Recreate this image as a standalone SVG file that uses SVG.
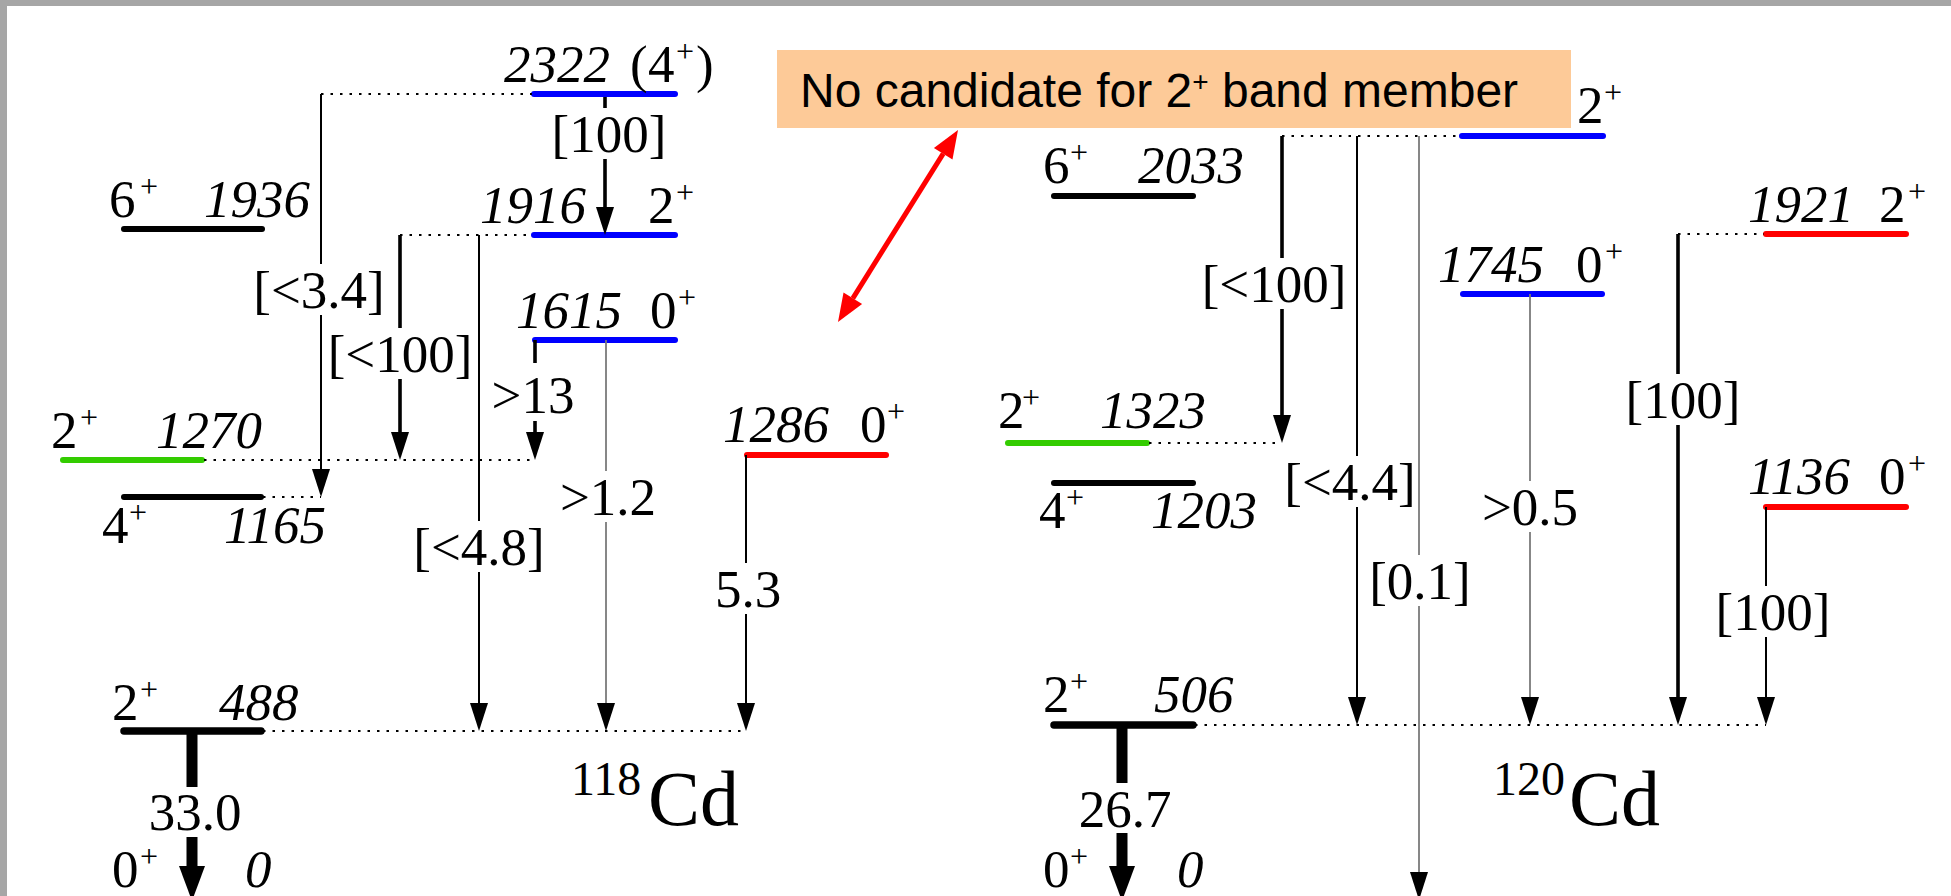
<svg xmlns="http://www.w3.org/2000/svg" width="1951" height="896" viewBox="0 0 1951 896">
<style>
.lv{fill:none;stroke-linecap:round;stroke-width:6}
.k{stroke:#000}.b{stroke:#0000ff}.r{stroke:#ff0000}.g{stroke:#33cc00}
.gs{stroke-width:7.5}
.dot{fill:none;stroke:#000;stroke-width:2;stroke-dasharray:2.5 7}
.tr{fill:none;stroke:#000;stroke-width:2;marker-end:url(#ah)}
.th{stroke-width:3.6}
.gr{stroke:#7a7a7a;stroke-width:1.8}
.bg{fill:#fff}
.gnd{fill:none;stroke:#000;stroke-width:11}
text{font-family:"Liberation Serif","Times New Roman",serif;font-size:53px;fill:#000}
.it{font-style:italic}
.sp{font-size:32px}
.c{text-anchor:middle}
.note{font-family:"Liberation Sans",Arial,sans-serif;font-size:48px}
</style>
<defs>
<marker id="ah" markerUnits="userSpaceOnUse" viewBox="0 0 18 28" markerWidth="18" markerHeight="28" refX="9" refY="18" orient="0"><path d="M0,0 L18,0 L9,28 z" fill="#000"/></marker>
</defs>
<rect x="0" y="0" width="1951" height="896" fill="#fff"/>
<rect x="0" y="0" width="1951" height="6" fill="#a6a6a6"/>
<rect x="0" y="0" width="7" height="896" fill="#a6a6a6"/>

<!-- 118Cd levels -->
<g id="cd118-2322"><line class="lv b" x1="534" y1="94" x2="675" y2="94"/>
<text x="504" y="82" class="it">2322</text>
<text y="82"><tspan x="630">(</tspan><tspan x="648">4</tspan><tspan x="676" class="sp" dy="-20">+</tspan><tspan x="696" dy="20">)</tspan></text></g>
<g id="cd118-1916"><line class="lv b" x1="534" y1="235" x2="675" y2="235"/>
<text x="480" y="223" class="it">1916</text>
<text y="223"><tspan x="648">2</tspan><tspan x="676" class="sp" dy="-20">+</tspan></text></g>
<g id="cd118-1936"><line class="lv k" x1="124" y1="229" x2="262" y2="229"/>
<text y="217"><tspan x="109">6</tspan><tspan x="140" class="sp" dy="-20">+</tspan></text>
<text x="204" y="217" class="it">1936</text></g>
<g id="cd118-1615"><line class="lv b" x1="535" y1="340" x2="675" y2="340"/>
<text x="516" y="328" class="it">1615</text>
<text y="328"><tspan x="650">0</tspan><tspan x="678" class="sp" dy="-20">+</tspan></text></g>
<g id="cd118-1270"><line class="lv g" x1="63" y1="460" x2="202" y2="460"/>
<text y="448"><tspan x="51">2</tspan><tspan x="80" class="sp" dy="-20">+</tspan></text>
<text x="156" y="448" class="it">1270</text></g>
<g id="cd118-1165"><line class="lv k" x1="124" y1="497" x2="261" y2="497"/>
<text y="543"><tspan x="102">4</tspan><tspan x="129" class="sp" dy="-20">+</tspan></text>
<text x="224" y="543" class="it">1165</text></g>
<g id="cd118-1286"><line class="lv r" x1="747" y1="455" x2="886" y2="455"/>
<text x="723" y="442" class="it">1286</text>
<text y="442"><tspan x="860">0</tspan><tspan x="887" class="sp" dy="-20">+</tspan></text></g>
<g id="cd118-488"><line class="lv k gs" x1="124" y1="731" x2="261" y2="731"/>
<text y="720"><tspan x="112">2</tspan><tspan x="140" class="sp" dy="-20">+</tspan></text>
<text x="219" y="720" class="it">488</text></g>
<g id="cd118-0">
<text y="887"><tspan x="112">0</tspan><tspan x="140" class="sp" dy="-20">+</tspan></text>
<text x="245" y="887" class="it">0</text></g>
<g id="cd118-title"><text y="795"><tspan x="571" font-size="48">118</tspan><tspan x="648" y="825" font-size="78">Cd</tspan></text></g>

<!-- 120Cd levels -->
<g id="cd120-top"><line class="lv b" x1="1462" y1="136" x2="1603" y2="136"/>
<text y="123"><tspan x="1577">2</tspan><tspan x="1604" class="sp" dy="-20">+</tspan></text></g>
<g id="cd120-2033"><line class="lv k" x1="1054" y1="196" x2="1193" y2="196"/>
<text y="183"><tspan x="1043">6</tspan><tspan x="1070" class="sp" dy="-20">+</tspan></text>
<text x="1138" y="183" class="it">2033</text></g>
<g id="cd120-1921"><line class="lv r" x1="1766" y1="234" x2="1906" y2="234"/>
<text x="1748" y="222" class="it">1921</text>
<text y="222"><tspan x="1879">2</tspan><tspan x="1908" class="sp" dy="-20">+</tspan></text></g>
<g id="cd120-1745"><line class="lv b" x1="1463" y1="294" x2="1602" y2="294"/>
<text x="1438" y="282" class="it">1745</text>
<text y="282"><tspan x="1576">0</tspan><tspan x="1605" class="sp" dy="-20">+</tspan></text></g>
<g id="cd120-1323"><line class="lv g" x1="1008" y1="443" x2="1147" y2="443"/>
<text y="428"><tspan x="998">2</tspan><tspan x="1022" class="sp" dy="-20">+</tspan></text>
<text x="1100" y="428" class="it">1323</text></g>
<g id="cd120-1203"><line class="lv k" x1="1054" y1="483" x2="1193" y2="483"/>
<text y="528"><tspan x="1039">4</tspan><tspan x="1066" class="sp" dy="-20">+</tspan></text>
<text x="1151" y="528" class="it">1203</text></g>
<g id="cd120-1136"><line class="lv r" x1="1766" y1="507" x2="1906" y2="507"/>
<text x="1748" y="494" class="it">1136</text>
<text y="494"><tspan x="1879">0</tspan><tspan x="1908" class="sp" dy="-20">+</tspan></text></g>
<g id="cd120-506"><line class="lv k gs" x1="1054" y1="725" x2="1193" y2="725"/>
<text y="712"><tspan x="1043">2</tspan><tspan x="1070" class="sp" dy="-20">+</tspan></text>
<text x="1154" y="712" class="it">506</text></g>
<g id="cd120-0">
<text y="887"><tspan x="1043">0</tspan><tspan x="1070" class="sp" dy="-20">+</tspan></text>
<text x="1177" y="887" class="it">0</text></g>
<g id="cd120-title"><text y="795"><tspan x="1493" font-size="48">120</tspan><tspan x="1569" y="825" font-size="78">Cd</tspan></text></g>

<g id="connectors">
<!-- dotted level extensions -->
<line class="dot" x1="321" y1="94" x2="532" y2="94"/>
<line class="dot" x1="400" y1="235" x2="532" y2="235"/>
<line class="dot" x1="204" y1="460" x2="535" y2="460"/>
<line class="dot" x1="263" y1="497" x2="321" y2="497"/>
<line class="dot" x1="263" y1="731" x2="747" y2="731"/>
<line class="dot" x1="1282" y1="136" x2="1460" y2="136"/>
<line class="dot" x1="1149" y1="443" x2="1282" y2="443"/>
<line class="dot" x1="1678" y1="234" x2="1764" y2="234"/>
<line class="dot" x1="1195" y1="725" x2="1766" y2="725"/>
<!-- 118Cd transitions -->
<line class="tr" x1="321" y1="94" x2="321" y2="487"/>
<line class="tr th" x1="605" y1="97" x2="605" y2="225"/>
<line class="tr th" x1="400" y1="235" x2="400" y2="450"/>
<line class="tr" x1="479" y1="235" x2="479" y2="721"/>
<line class="tr th" x1="535" y1="340" x2="535" y2="450"/>
<line class="tr gr" x1="606" y1="340" x2="606" y2="721"/>
<line class="tr" x1="746" y1="455" x2="746" y2="721"/>
<line class="gnd" x1="192" y1="731" x2="192" y2="870"/>
<polygon points="179,866 205,866 192,901" fill="#000"/>
<!-- 120Cd transitions -->
<line class="tr th" x1="1282" y1="136" x2="1282" y2="433"/>
<line class="tr" x1="1357" y1="136" x2="1357" y2="715"/>
<line class="tr gr" x1="1419" y1="136" x2="1419" y2="890"/>
<line class="tr gr" x1="1530" y1="294" x2="1530" y2="715"/>
<line class="tr th" x1="1678" y1="234" x2="1678" y2="715"/>
<line class="tr" x1="1766" y1="507" x2="1766" y2="715"/>
<line class="gnd" x1="1122" y1="725" x2="1122" y2="870"/>
<polygon points="1109,866 1135,866 1122,901" fill="#000"/>
<!-- intensity labels -->
<rect class="bg" x="552" y="108" width="114" height="51"/><text class="c" x="609" y="152">[100]</text>
<rect class="bg" x="253" y="264" width="132" height="51"/><text class="c" x="319" y="308">[&lt;3.4]</text>
<rect class="bg" x="327" y="328" width="146" height="51"/><text class="c" x="400" y="372">[&lt;100]</text>
<rect class="bg" x="491" y="363" width="85" height="58"/><text class="c" x="533" y="413">&gt;13</text>
<rect class="bg" x="415" y="521" width="129" height="51"/><text class="c" x="479" y="565">[&lt;4.8]</text>
<rect class="bg" x="558" y="471" width="101" height="51"/><text class="c" x="608" y="515">&gt;1.2</text>
<rect class="bg" x="716" y="563" width="64" height="51"/><text class="c" x="748" y="607">5.3</text>
<rect class="bg" x="147" y="787" width="96" height="50"/><text class="c" x="195" y="830">33.0</text>
<rect class="bg" x="1201" y="258" width="146" height="51"/><text class="c" x="1274" y="302">[&lt;100]</text>
<rect class="bg" x="1286" y="456" width="130" height="51"/><text class="c" x="1350" y="500">[&lt;4.4]</text>
<rect class="bg" x="1371" y="555" width="98" height="51"/><text class="c" x="1420" y="599">[0.1]</text>
<rect class="bg" x="1481" y="481" width="98" height="51"/><text class="c" x="1530" y="525">&gt;0.5</text>
<rect class="bg" x="1626" y="374" width="114" height="51"/><text class="c" x="1683" y="418">[100]</text>
<rect class="bg" x="1716" y="586" width="114" height="51"/><text class="c" x="1773" y="630">[100]</text>
<rect class="bg" x="1077" y="783" width="96" height="50"/><text class="c" x="1125" y="827">26.7</text>
</g>

<g id="note">
<rect x="777" y="50" width="794" height="78" fill="#fdca98"/>
<text class="note" x="800" y="107">No candidate for 2<tspan font-size="28" dy="-16">+</tspan><tspan dy="16"> band member</tspan></text>
</g>
<g id="note-arrow">
<line x1="943.2" y1="153.7" x2="852.8" y2="298.3" stroke="#ff0000" stroke-width="5"/>
<polygon points="958,130 952.5,159.5 933.9,147.9" fill="#ff0000"/>
<polygon points="838,322 862.1,304.1 843.5,292.5" fill="#ff0000"/>
</g>
</svg>
